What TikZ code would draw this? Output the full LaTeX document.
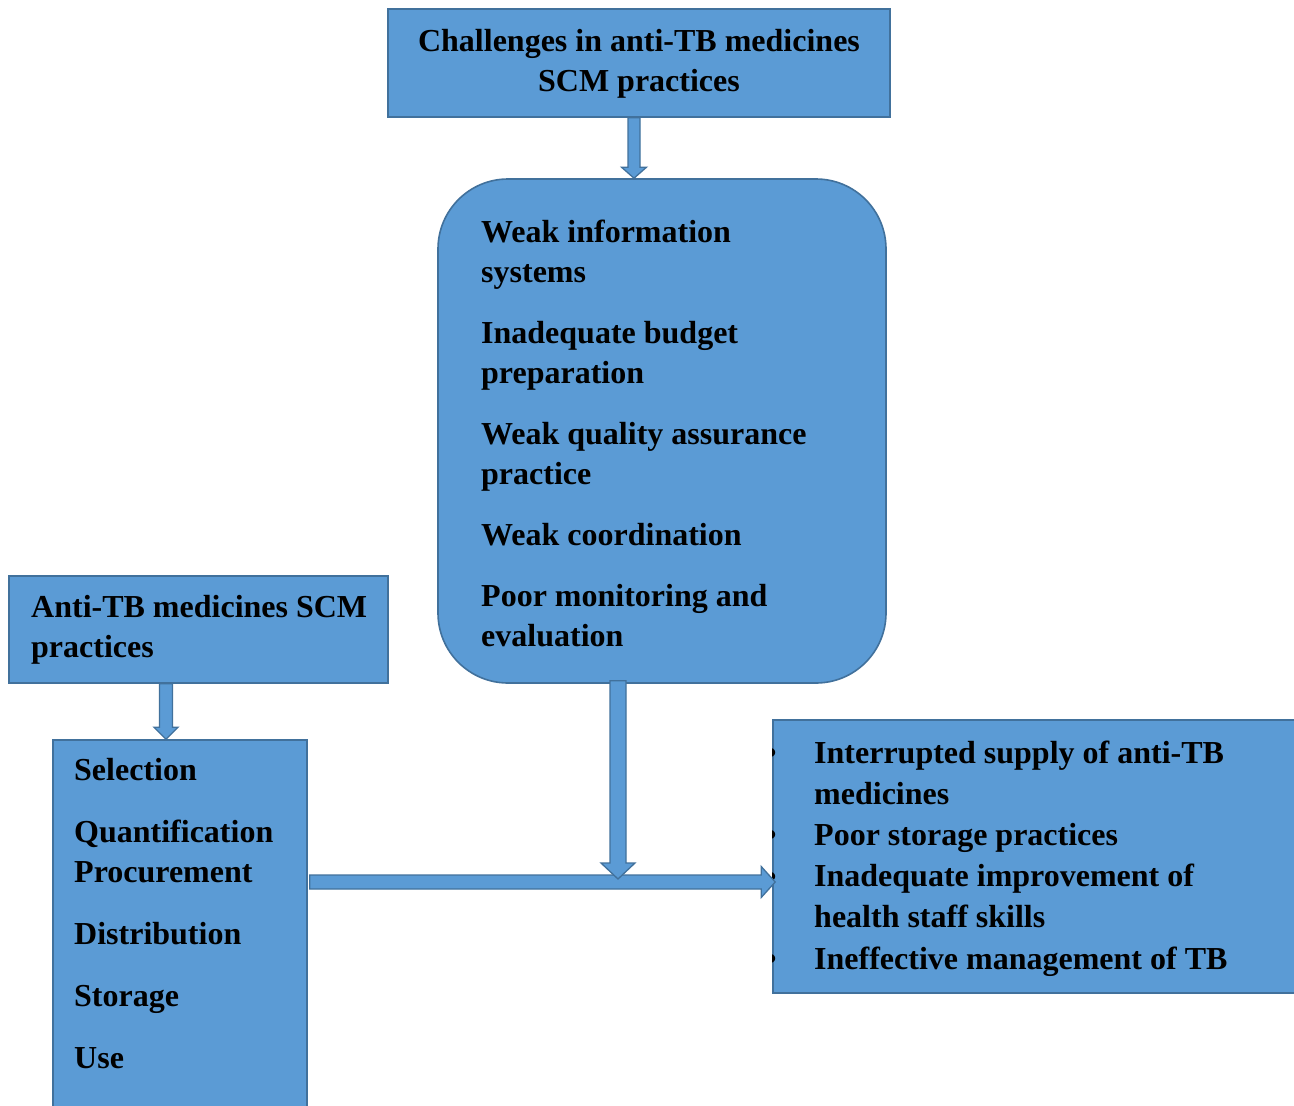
\documentclass[tikz,border=0pt]{standalone}
\usepackage{fontspec}
\setmainfont{Liberation Serif}
\usetikzlibrary{calc, positioning}

\definecolor{caixaAzul}{HTML}{5B9BD5}
\definecolor{bordaAzul}{HTML}{41719C}

% seta em bloco: origem, destino, meia largura da haste, meia largura da ponta, comprimento da ponta
\newcommand{\setaBloco}[5]{%
    \coordinate (sbH) at ($(#2)!#5!(#1)$);
    \draw[seta] ($(#1)!#3!90:(#2)$) -- ($(sbH)!#3!-90:(#1)$) -- ($(sbH)!#4!-90:(#1)$)
        -- (#2) -- ($(sbH)!#4!90:(#1)$) -- ($(sbH)!#3!90:(#1)$) -- ($(#1)!#3!-90:(#2)$) -- cycle;
}

\begin{document}
\begin{tikzpicture}[
    x=1pt, y=-1pt,
    caixa/.style={draw=bordaAzul, fill=caixaAzul, line width=1.6pt, inner sep=0pt},
    texto/.style={font=\bfseries\fontsize{32}{40}\selectfont, inner sep=0pt, align=left,
        execute at begin node={\spaceskip=8pt\relax}},
    seta/.style={draw=bordaAzul, fill=caixaAzul, line width=1.3pt, line join=miter}
]

    % 1. Area da figura
    \clip (0,0) rectangle (1294,1106);
    \fill[white] (0,0) rectangle (1294,1106);

    % 2. Caixas
    \node[caixa, minimum width=502pt, minimum height=108pt] (Topo) at (639,63) {};
    \node[caixa, rounded corners=70pt, minimum width=448pt, minimum height=504pt] (Meio) at (662,431) {};
    \node[caixa, minimum width=379pt, minimum height=107pt] (Praticas) at (198.5,629.5) {};
    \node[caixa, minimum width=254pt, minimum height=380pt] (Etapas) at (180,930) {};
    \node[caixa, minimum width=537pt, minimum height=273pt] (Efeitos) at (1041.5,856.5) {};

    % 3. Textos
    \node[texto, text width=502pt, align=center, anchor=base] (tTopo) at (639,51)
        {Challenges in anti-TB medicines\\ SCM practices};
    \node[texto, text width=400pt, anchor=base west] (tMeio) at (481,242)
        {Weak information\\ systems\\[21pt]
         Inadequate budget\\ preparation\\[21pt]
         Weak quality assurance\\ practice\\[21pt]
         Weak coordination\\[21pt]
         Poor monitoring and\\ evaluation};
    \node[texto, text width=350pt, anchor=base west] (tPraticas) at (31,617)
        {Anti-TB medicines SCM\\ practices};
    \node[texto, text width=230pt, anchor=base west] (tEtapas) at (74,780)
        {Selection\\[22pt] Quantification\\ Procurement\\[22pt]
         Distribution\\[22pt] Storage\\[22pt] Use};
    \node[texto, font=\bfseries\fontsize{32}{41.2}\selectfont, text width=470pt, anchor=base west] (tEfeitos) at (814,763)
        {Interrupted supply of anti-TB\\ medicines\\ Poor storage practices\\
         Inadequate improvement of\\ health staff skills\\ Ineffective management of TB};

    % 4. Marcadores (cortados pela borda da caixa)
    \begin{scope}
        \clip (Efeitos.north west) rectangle (Efeitos.south east);
        \node[texto, anchor=base] (b1) at (771,763) {•};
        \node[texto, anchor=base] (b2) at (771,845) {•};
        \node[texto, anchor=base] (b3) at (771,887) {•};
        \node[texto, anchor=base] (b4) at (771,969) {•};
    \end{scope}

    % 5. Pontos das setas
    \coordinate (X1) at (634,0);
    \coordinate (X2) at (166,0);
    \coordinate (X3) at (618,0);
    \coordinate (Y3) at (0,882);
    \coordinate (S1i) at (X1 |- Topo.south);
    \coordinate (S1f) at (X1 |- Meio.north);
    \coordinate (S2i) at (X2 |- Praticas.south);
    \coordinate (S2f) at (X2 |- Etapas.north);
    \coordinate (S3i) at ($(Etapas.east |- Y3)+(2,0)$);
    \coordinate (S3f) at ($(Efeitos.west |- Y3)+(3,0)$);
    \coordinate (S4i) at ($(X3 |- Meio.south)+(0,-3)$);
    \coordinate (S4f) at (X3 |- 0,879);

    % 6. Setas em bloco
    \setaBloco{S1i}{S1f}{6pt}{12.5pt}{11pt}
    \setaBloco{S2i}{S2f}{6.5pt}{12pt}{12pt}
    \setaBloco{S3i}{S3f}{7pt}{15.5pt}{14pt}
    \setaBloco{S4i}{S4f}{8pt}{17pt}{16pt}

\end{tikzpicture}
\end{document}
